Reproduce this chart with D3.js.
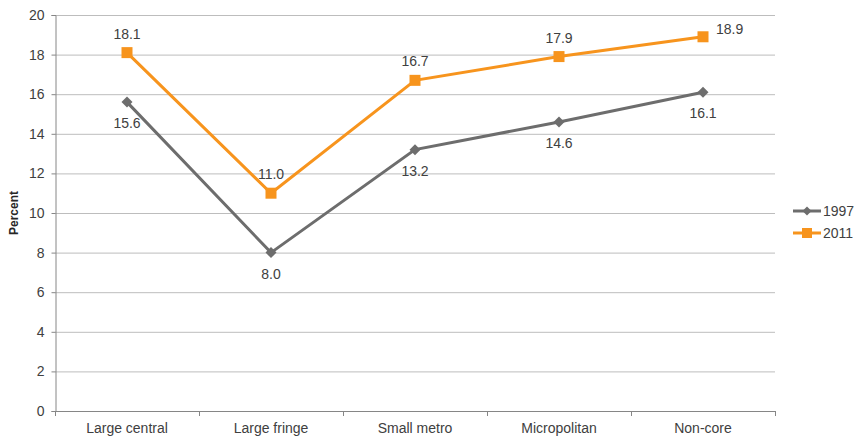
<!DOCTYPE html>
<html><head><meta charset="utf-8">
<script src="https://cdn.jsdelivr.net/npm/d3@7"></script>
<style>body{margin:0;background:#fff;} text{font-family:Arial,"Liberation Sans",sans-serif;}</style>
</head><body><svg id="c" width="857" height="437"></svg>
<script>
const categories = ["Large central","Large fringe","Small metro","Micropolitan","Non-core"];
const series1997 = [15.6, 8.0, 13.2, 14.6, 16.1];
const series2011 = [18.1, 11.0, 16.7, 17.9, 18.9];
const yTicks = [0,2,4,6,8,10,12,14,16,18,20];
const seriesNames = ["1997","2011"];
const colors = ["#6d6d6d","#f7941d"];

const svg = d3.select("#c");
const L=55, R=775, T=15, B=411;
const FS = "14px";
const x = d3.scaleBand().domain(categories).range([L,R]).padding(0);
const y = d3.scaleLinear().domain([0,20]).range([B,T]);
const cx = c => x(c)+x.bandwidth()/2;
const diamond = r => `M0,${-r}L${r},0L0,${r}L${-r},0Z`;

// gridlines
svg.append("g").selectAll("line").data(yTicks.filter(d=>d>0)).join("line")
  .attr("x1",L).attr("x2",R).attr("y1",d=>y(d)+0.5).attr("y2",d=>y(d)+0.5)
  .attr("stroke","#bdbdbd").attr("stroke-width",1);

// y axis
const ya = svg.append("g").attr("transform",`translate(${L+0.5},0)`)
  .call(d3.axisLeft(y).tickValues(yTicks).tickSize(4).tickPadding(7).tickFormat(d3.format("d")));
ya.select(".domain").attr("stroke","#868686");
ya.selectAll(".tick line").attr("stroke","#868686");
ya.selectAll("text").attr("font-size",FS).attr("fill","#404040").attr("font-family","Arial,'Liberation Sans',sans-serif");

// x axis
const xa = svg.append("g").attr("transform",`translate(0,${B+0.5})`)
  .call(d3.axisBottom(x).tickSize(0).tickPadding(12));
xa.select(".domain").attr("stroke","#868686").attr("d",`M${L},0H${R}`);
xa.selectAll("text").attr("font-size",FS).attr("fill","#404040").attr("font-family","Arial,'Liberation Sans',sans-serif");
const bounds = categories.map(c=>x(c)).concat([R]);
svg.append("g").selectAll("line").data(bounds).join("line")
  .attr("x1",d=>d+0.5).attr("x2",d=>d+0.5).attr("y1",B).attr("y2",B+5)
  .attr("stroke","#868686");

// y title
svg.append("text").attr("transform",`translate(18,${(T+B)/2}) rotate(-90)`)
  .attr("text-anchor","middle").attr("font-size","12px").attr("font-weight","bold")
  .attr("fill","#262626").text("Percent");

const line = d3.line().x((d,i)=>cx(categories[i])).y(d=>y(d));
const all = [series1997, series2011];
all.forEach((s,k)=>{
  svg.append("path").datum(s).attr("d",line).attr("fill","none")
    .attr("stroke",colors[k]).attr("stroke-width",3);
});
// markers
svg.append("g").selectAll("path").data(series1997).join("path")
  .attr("d",diamond(5.5))
  .attr("transform",(d,i)=>`translate(${cx(categories[i])},${y(d)})`)
  .attr("fill",colors[0]);
svg.append("g").selectAll("rect").data(series2011).join("rect")
  .attr("x",(d,i)=>cx(categories[i])-5.5).attr("y",d=>y(d)-5.5)
  .attr("width",11).attr("height",11).attr("fill",colors[1]);

// labels
svg.append("g").selectAll("text").data(series1997).join("text")
  .attr("x",(d,i)=>cx(categories[i])).attr("y",d=>y(d)+26)
  .attr("text-anchor","middle").attr("font-size",FS).attr("fill","#404040")
  .text(d=>d.toFixed(1));
svg.append("g").selectAll("text").data(series2011).join("text")
  .attr("x",(d,i)=> i===4 ? cx(categories[i])+13 : cx(categories[i]))
  .attr("y",(d,i)=> i===4 ? y(d)-3 : y(d)-14)
  .attr("text-anchor",(d,i)=> i===4 ? "start":"middle")
  .attr("font-size",FS).attr("fill","#404040")
  .text(d=>d.toFixed(1));

// legend
seriesNames.forEach((n,k)=>{
  const ly = 211 + k*22;
  const g = svg.append("g");
  g.append("line").attr("x1",793).attr("x2",821).attr("y1",ly).attr("y2",ly)
    .attr("stroke",colors[k]).attr("stroke-width",3);
  if(k===0) g.append("path").attr("d",diamond(4.5)).attr("transform",`translate(807,${ly})`).attr("fill",colors[k]);
  else g.append("rect").attr("x",802).attr("y",ly-5).attr("width",10).attr("height",10).attr("fill",colors[k]);
  g.append("text").attr("x",823).attr("y",ly+5).attr("font-size",FS).attr("fill","#404040").text(n);
});
</script></body></html>
